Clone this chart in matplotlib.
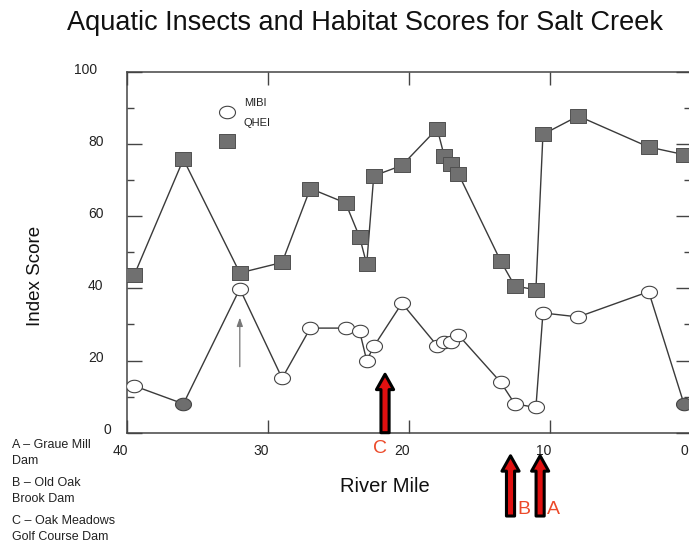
import matplotlib
matplotlib.use("Agg")
import matplotlib.pyplot as plt
import matplotlib.transforms as mtransforms
from matplotlib.path import Path
import numpy as np

plt.rcParams['font.family'] = ['Liberation Sans', 'DejaVu Sans']

# sampling sites, river mile (40 = upstream, 0 = mouth)
site_miles = [39.5, 36.0, 32.0, 29.0, 27.0, 24.5, 23.5, 23.0, 22.5, 20.5, 18.0,
              17.5, 17.0, 16.5, 13.5, 12.5, 11.0, 10.5, 8.0, 3.0, 0.5]
qhei_scores = [43.6, 75.8, 44.3, 47.2, 67.7, 63.7, 54.2, 46.7, 71.2, 74.1, 84.3,
               76.7, 74.6, 71.8, 47.6, 40.7, 39.6, 82.7, 87.8, 79.2, 77.1]
mibi_scores = [13.0, 8.0, 39.9, 15.1, 29.0, 29.0, 28.1, 20.0, 23.9, 35.9, 24.1,
               25.1, 25.1, 27.1, 14.0, 8.0, 7.0, 33.2, 32.1, 39.1, 8.0]
# MIBI sites drawn as filled grey circles
mibi_shaded = [False, True] + [False] * 18 + [True]

x_ticks = [40, 30, 20, 10, 0]
y_ticks = [0, 20, 40, 60, 80, 100]

# dams shown with the red arrows
dam_letters = ['A', 'B', 'C']
dam_miles = [10.7, 12.8, 21.7]
dam_notes = [('A \u2013 Graue Mill', 'Dam'),
             ('B \u2013 Old Oak', 'Brook Dam'),
             ('C \u2013 Oak Meadows', 'Golf Course Dam')]
peak_mile, peak_score = 32.0, 39.9

W, H = 689, 542
fig = plt.figure(figsize=(W / 100, H / 100), dpi=100)
ax = fig.add_axes([127 / W, 109.3 / H, 564 / W, 360.7 / H])

# slightly squashed markers like the original
t = np.linspace(0, 2 * np.pi, 60)
ellipse = Path(np.column_stack([np.cos(t), 0.78 * np.sin(t)]), closed=True)
rect = Path([(-1, -0.88), (1, -0.88), (1, 0.88), (-1, 0.88), (-1, -0.88)], closed=True)

line_col = '#3a3a3a'
ax.plot(site_miles, qhei_scores, '-', color=line_col, lw=1.0, zorder=2)
ax.plot(site_miles, qhei_scores, ls='none', marker=rect, ms=12,
        mfc='#707070', mec='#505050', mew=0.7, zorder=4)

ax.plot(site_miles, mibi_scores, '-', color=line_col, lw=1.0, zorder=2)
mibi_fc = ['#6e6e6e' if s else 'white' for s in mibi_shaded]
for m, v, fc in zip(site_miles, mibi_scores, mibi_fc):
    ax.plot(m, v, ls='none', marker=ellipse, ms=11.5, mfc=fc, mec='#444444',
            mew=0.8, zorder=5)

ax.set_xlim(40, 0)
ax.set_ylim(0, 100)
ax.set_xticks(x_ticks)
ax.set_xticklabels([str(v) for v in x_ticks])
ax.set_yticks(y_ticks)
ax.set_yticklabels([str(v) for v in y_ticks])
ax.set_yticks(np.arange(10, 100, 20), minor=True)

for s in ax.spines.values():
    s.set_color('#444444')
    s.set_linewidth(1.1)

ax.tick_params(axis='y', which='major', direction='in', length=10.5, width=1.0,
               color='#444444', left=True, right=True, labelsize=10, pad=17,
               labelcolor='#222222')
ax.tick_params(axis='y', which='minor', direction='in', length=5, width=1.0,
               color='#444444', left=True, right=True)
ax.tick_params(axis='x', which='major', direction='in', length=9.5, width=1.0,
               color='#444444', top=True, bottom=True, labelsize=10, pad=8,
               labelcolor='#222222')

# labels sit a bit high on y and right-aligned on x (as in the original)
ylab_dx = {0: 0.08, 100: -0.06}
for val, lab in zip(y_ticks, ax.get_yticklabels()):
    off = mtransforms.ScaledTranslation(ylab_dx.get(val, 0), 0.04, fig.dpi_scale_trans)
    lab.set_transform(lab.get_transform() + off)
for val, lab in zip(x_ticks, ax.get_xticklabels()):
    dx = -0.03 if val == 0 else 0.01
    lab.set_horizontalalignment('right')
    lab.set_transform(lab.get_transform() +
                      mtransforms.ScaledTranslation(dx, 0, fig.dpi_scale_trans))

# legend, drawn by hand
ax.plot(0.177, 0.889, marker=ellipse, ms=11.5, mfc='white', mec='#444444',
        mew=0.8, transform=ax.transAxes, clip_on=False)
ax.plot(0.177, 0.809, marker=rect, ms=12, mfc='#707070', mec='#505050',
        mew=0.7, transform=ax.transAxes, clip_on=False)
ax.text(0.207, 0.914, 'MIBI', transform=ax.transAxes, fontsize=8, va='center',
        color='#222222')
ax.text(0.207, 0.858, 'QHEI', transform=ax.transAxes, fontsize=8, va='center',
        color='#222222')

# thin arrow under the MIBI peak
ax.annotate('', xy=(peak_mile, peak_score - 8), xytext=(peak_mile, peak_score - 21.6),
            arrowprops=dict(arrowstyle='-|>,head_length=0.5,head_width=0.18',
                            color='#777777', lw=0.9, shrinkA=0, shrinkB=0))

# dam arrows: C inside the axes, A and B below
red_arrow = dict(arrowstyle='simple,head_length=0.85,head_width=0.95,tail_width=0.45',
                 mutation_scale=13, fc='#e01010', ec='black', lw=2.2,
                 shrinkA=0, shrinkB=0)
letter_col = '#ec4a2a'
for letter, mile in zip(dam_letters, dam_miles):
    if letter == 'C':
        ax.annotate('', xy=(mile, 16.2), xytext=(mile, 0), arrowprops=red_arrow,
                    annotation_clip=False)
        ax.annotate(letter, xy=(mile, 0), xytext=(-3.5, -11.5), textcoords='offset points',
                    ha='center', va='center', fontsize=14, color=letter_col,
                    annotation_clip=False)
    else:
        ax.annotate('', xy=(mile, -6.4), xytext=(mile, -23.1), arrowprops=red_arrow,
                    annotation_clip=False)
        ax.annotate(letter, xy=(mile, -23.1), xytext=(9.5, 4.5), textcoords='offset points',
                    ha='center', va='center', fontsize=14, color=letter_col,
                    annotation_clip=False)

fig.text(365 / W, 1 - 23 / H, 'Aquatic Insects and Habitat Scores for Salt Creek',
         ha='center', va='center', fontsize=19.5, color='#111111')
fig.text(36 / W, 1 - 276 / H, 'Index Score', rotation=90, ha='center', va='center',
         fontsize=13.5, color='#111111')
fig.text(385 / W, 1 - 487 / H, 'River Mile', ha='center', va='center', fontsize=14.5,
         color='#111111')

note_y = [445, 483, 521]
for (l1, l2), yy in zip(dam_notes, note_y):
    fig.text(12 / W, 1 - yy / H, l1, ha='left', va='center', fontsize=9, color='#222222')
    fig.text(12 / W, 1 - (yy + 16) / H, l2, ha='left', va='center', fontsize=9,
             color='#222222')

fig.savefig('out.png', dpi=100)
